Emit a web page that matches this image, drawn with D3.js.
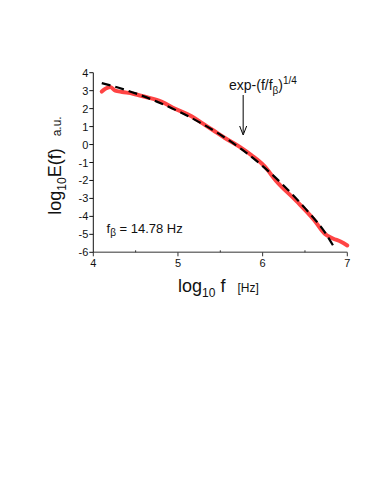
<!DOCTYPE html>
<html>
<head>
<meta charset="utf-8">
<script src="https://cdn.jsdelivr.net/npm/d3@7"></script>
<style>
  body { margin: 0; background: #fff; }
  svg text { font-family: "Liberation Sans", Arial, sans-serif; fill: #111; }
</style>
</head>
<body>
<svg id="chart" width="374" height="488"></svg>
<script>
const measX = [4.10, 4.14, 4.20, 4.26, 4.34, 4.47, 4.61, 4.81, 4.96, 5.16, 5.30, 5.42, 5.55, 5.73, 5.87, 6.01, 6.17, 6.40, 6.61, 6.73, 6.83, 6.92, 7.00]
const measY = [2.95, 3.10, 3.21, 3.00, 2.93, 2.83, 2.66, 2.38, 2.01, 1.58, 1.15, 0.78, 0.38, -0.13, -0.60, -1.15, -2.08, -3.15, -4.21, -4.95, -5.23, -5.40, -5.62]
const fitX = [4.10, 4.30, 4.50, 4.75, 5.00, 5.25, 5.50, 5.75, 6.00, 6.25, 6.50, 6.75, 6.86]
const fitY = [3.42, 3.16, 2.85, 2.39, 1.86, 1.25, 0.55, -0.26, -1.20, -2.29, -3.54, -4.99, -5.85]
const xTicks = [4, 5, 6, 7]
const xMinor = [4.5, 5.5, 6.5]
const yTicks = [-6, -5, -4, -3, -2, -1, 0, 1, 2, 3, 4]

const svg = d3.select('#chart')

const x = d3.scaleLinear().domain([4, 7]).range([93.3, 347.3])
const y = d3.scaleLinear().domain([-6, 4]).range([252.3, 72.7])

// x axis
const xAxis = svg.append('g').attr('transform', `translate(0,${y(-6)})`)
xAxis.append('line')
  .attr('x1', x(4)).attr('x2', x(7))
  .attr('stroke', '#777').attr('stroke-width', 1.5)
xTicks.forEach(t => {
  xAxis.append('line').attr('x1', x(t)).attr('x2', x(t)).attr('y1', 0).attr('y2', 4)
    .attr('stroke', '#333').attr('stroke-width', 1)
  xAxis.append('text').attr('x', x(t)).attr('y', 15).attr('text-anchor', 'middle')
    .attr('font-size', 11).text(t)
})
xMinor.forEach(t => {
  xAxis.append('line').attr('x1', x(t)).attr('x2', x(t)).attr('y1', -2).attr('y2', 0)
    .attr('stroke', '#333').attr('stroke-width', 1)
})

// y axis
const yAxis = svg.append('g').attr('transform', `translate(${x(4)},0)`)
yAxis.append('line')
  .attr('y1', y(-6)).attr('y2', y(4))
  .attr('stroke', '#111').attr('stroke-width', 1)
yTicks.forEach(t => {
  yAxis.append('line').attr('x1', -4).attr('x2', 0).attr('y1', y(t)).attr('y2', y(t))
    .attr('stroke', '#111').attr('stroke-width', 1)
  yAxis.append('text').attr('x', -5).attr('y', y(t) + 4).attr('text-anchor', 'end')
    .attr('font-size', 11).text(t)
})

// curves
const line = d3.line()
  .x(d => x(d[0]))
  .y(d => y(d[1]))
  .curve(d3.curveMonotoneX)

svg.append('path')
  .datum(measX.map((v, i) => [v, measY[i]]))
  .attr('fill', 'none')
  .attr('stroke', '#ff4444')
  .attr('stroke-width', 4)
  .attr('stroke-linecap', 'round')
  .attr('d', line)

svg.append('path')
  .datum(fitX.map((v, i) => [v, fitY[i]]))
  .attr('fill', 'none')
  .attr('stroke', '#000')
  .attr('stroke-width', 2.2)
  .attr('stroke-dasharray', '9,5')
  .attr('d', line)

// axis titles
const yl = svg.append('text')
  .attr('transform', `translate(61,${(y(-6) + y(4)) / 2 + 3}) rotate(-90)`)
  .attr('text-anchor', 'middle')
yl.append('tspan').attr('font-size', 18).text('log')
yl.append('tspan').attr('font-size', 12).attr('dy', 5).text('10')
yl.append('tspan').attr('font-size', 18).attr('dy', -5).text('E(f)')
yl.append('tspan').attr('font-size', 12).attr('dx', 12).text('a.u.')

const xl = svg.append('text')
  .attr('x', 178).attr('y', 292)
xl.append('tspan').attr('font-size', 18).text('log')
xl.append('tspan').attr('font-size', 12).attr('dy', 5).text('10')
xl.append('tspan').attr('font-size', 18).attr('dy', -5).text(' f')
xl.append('tspan').attr('font-size', 12).attr('dx', 12).text('[Hz]')

// annotations
const fb = svg.append('text').attr('x', 106.5).attr('y', 233).attr('font-size', 13)
fb.append('tspan').text('f')
fb.append('tspan').attr('font-size', 10).attr('dy', 3).text('β')
fb.append('tspan').attr('dy', -3).text(' = 14.78 Hz')

const ex = svg.append('text').attr('x', 229).attr('y', 90).attr('font-size', 14)
ex.append('tspan').text('exp-(f/f')
ex.append('tspan').attr('font-size', 10).attr('dy', 4).text('β')
ex.append('tspan').attr('dy', -4).text(')')
ex.append('tspan').attr('font-size', 10).attr('dy', -6).text('1/4')

svg.append('line')
  .attr('x1', x(5.77)).attr('x2', x(5.77))
  .attr('y1', 95).attr('y2', 133)
  .attr('stroke', '#000').attr('stroke-width', 1)
svg.append('path')
  .attr('d', `M${x(5.77) - 3.5},126 L${x(5.77)},135 L${x(5.77) + 3.5},126`)
  .attr('fill', 'none').attr('stroke', '#000').attr('stroke-width', 1)
</script>
</body>
</html>
